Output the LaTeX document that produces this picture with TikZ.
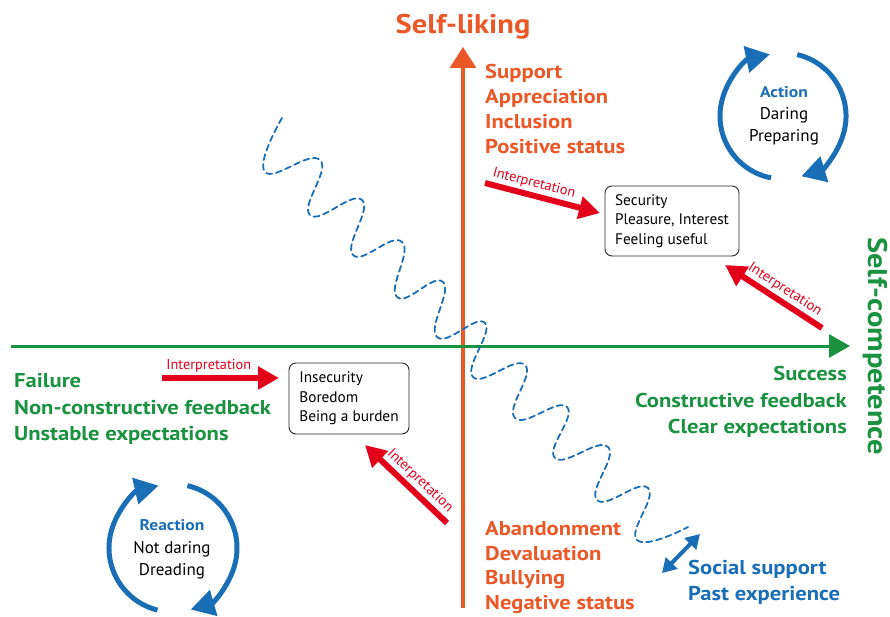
\documentclass[tikz,border=0pt]{standalone}
\usepackage{fontspec}
\setmainfont{PT Sans}[BoldFeatures={FakeStretch=1.13}]
\usetikzlibrary{arrows.meta,calc}
\definecolor{cor}{RGB}{233,88,38}
\definecolor{cgr}{RGB}{26,146,64}
\definecolor{cbl}{RGB}{26,110,182}
\definecolor{cred}{RGB}{226,0,26}
\begin{document}
\begin{tikzpicture}[x=1pt,y=-1pt,
  ttl/.style={font=\bfseries\fontsize{27}{30}\selectfont, inner sep=0},
  big/.style={font=\bfseries\fontsize{20}{24}\selectfont, inner sep=0},
  otxt/.style={big, text=cor, anchor=base west},
  gtxt/.style={big, text=cgr},
  btxt/.style={big, text=cbl, anchor=base west},
  box/.style={draw=black!85, rounded corners=7pt, line width=0.9pt, align=left,
    font=\fontsize{15.3}{19.5}\selectfont, inner xsep=9pt},
  interp/.style={draw=cred, line width=6pt, -{Triangle[length=21pt,width=22pt]}},
  ilab/.style={text=cred, font=\fontsize{14.3}{16}\selectfont, sloped, above=1.5pt, inner sep=1pt},
  cyc/.style={draw=cbl, line width=5pt, -{Triangle[length=24pt,width=26pt]}},
  cyct/.style={font=\fontsize{17}{20}\selectfont, inner sep=0, anchor=base},
  cych/.style={cyct, text=cbl, font=\bfseries\fontsize{15.5}{20}\selectfont},
  wave/.style={draw=cbl, line width=1.8pt, dash pattern=on 6pt off 4pt, line cap=round},
]
\useasboundingbox (0,0) rectangle (890,617);

% axes
\coordinate (ob) at (463,608);
\coordinate (ot) at (463,47);
\coordinate (gl) at (11,346);
\coordinate (gr) at (850,346);
\draw[cor, line width=3.5pt, -{Triangle[length=21pt,width=26pt]}] (ob) -- (ot);
\draw[cgr, line width=3pt, -{Triangle[length=21pt,width=23pt]}] (gl) -- (gr);
\node[ttl, text=cor, anchor=base] (sl) at (463,34) {Self-liking};
\node[ttl, text=cgr, rotate=-90] (sc) at (875,346) {Self-competence};

% wave
\draw[wave] plot[smooth, tension=0.85] coordinates {
 (282,118) (265,172) (320,160) (310,215) (362,200) (353,255) (402,242) (397,297)
 (443,282) (437,337) (485,323) (473,377) (525,365) (515,418) (567,407) (555,458)
 (608,447) (597,500) (648,488) (637,540) (688,527)};

% orange texts
\foreach \t [count=\i] in {Support,Appreciation,Inclusion,Positive status}
  \node[otxt] (up\i) at (485,54+25*\i) {\t};
\foreach \t [count=\i] in {Abandonment,Devaluation,Bullying,Negative status}
  \node[otxt] (dn\i) at (485,511+24.5*\i) {\t};

% green texts
\node[gtxt, anchor=base west] (fa1) at (14,387) {Failure};
\node[gtxt, anchor=base west] (fa2) at (14,414) {Non-constructive feedback};
\node[gtxt, anchor=base west] (fa3) at (14,440) {Unstable expectations};
\node[gtxt, anchor=base east] (su1) at (847,380) {Success};
\node[gtxt, anchor=base east] (su2) at (847,407) {Constructive feedback};
\node[gtxt, anchor=base east] (su3) at (847,433) {Clear expectations};

% blue texts
\node[btxt] (ss) at (688,574) {Social support};
\node[btxt] (pe) at (688,600) {Past experience};
\coordinate (da1) at (662,573);
\coordinate (da2) at (700,534);
\draw[cbl, line width=4pt, {Triangle[length=14pt,width=16pt]}-{Triangle[length=14pt,width=16pt]}] (da1) -- (da2);

% boxes
\node[box, minimum width=134pt, minimum height=70pt] (bsec) at (672,221)
  {Security\\Pleasure, Interest\\Feeling useful};
\node[box, minimum width=120pt, minimum height=71pt] (bins) at (349,398.5)
  {Insecurity\\Boredom\\Being a burden};

% interpretation arrows
\coordinate (i1a) at (485,183); \coordinate (i1b) at (600,213);
\coordinate (i2a) at (822,328); \coordinate (i2b) at (725,265);
\coordinate (i3a) at (162,378); \coordinate (i3b) at (279,378);
\coordinate (i4a) at (447,523); \coordinate (i4b) at (365,445);
\draw[interp] (i1a) -- node[ilab, pos=0.4] (l1) {Interpretation} (i1b);
\draw[interp] (i2a) -- node[ilab, pos=0.45] (l2) {Interpretation} (i2b);
\draw[interp] (i3a) -- node[ilab, pos=0.4] (l3) {Interpretation} (i3b);
\draw[interp] (i4a) -- node[ilab, pos=0.43] (l4) {Interpretation} (i4b);

% cycles
\coordinate (topc) at (783,116);
\coordinate (botc) at (173,548);
\draw[cyc] ($(topc)+(101:63)$) arc[start angle=101, end angle=258, radius=63];
\draw[cyc] ($(topc)+(283:63)$) arc[start angle=283, end angle=433, radius=63];
\draw[cyc] ($(botc)+(104:64)$) arc[start angle=104, end angle=257, radius=64];
\draw[cyc] ($(botc)+(283:64)$) arc[start angle=283, end angle=434, radius=64];
\node[cych] (act) at (784,98) {Action};
\node[cyct] (dar) at (784,120) {Daring};
\node[cyct] (pre) at (784,142) {Preparing};
\node[cych] (rea) at (172,530) {Reaction};
\node[cyct] (nda) at (172,553) {Not daring};
\node[cyct] (dre) at (172,575) {Dreading};
\end{tikzpicture}
\end{document}
